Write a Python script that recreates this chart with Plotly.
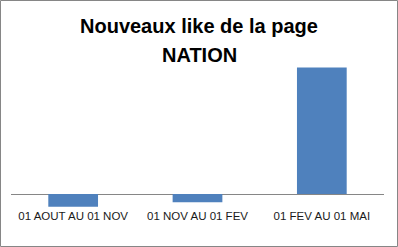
import plotly.graph_objects as go

categories = ["01 AOUT AU 01 NOV", "01 NOV AU 01 FEV", "01 FEV AU 01 MAI"]
values = [-25, -16, 250]
title_lines = ["Nouveaux like de la page", "NATION"]

W, H = 398, 247
L, R, T, B = 11, 14, 60, 40
pw, ph = W - L - R, H - T - B


def py(y_px):
    return (H - B - y_px) / ph


fig = go.Figure(go.Bar(x=categories, y=values, marker=dict(color="#4F81BD", line=dict(width=0))))

annotations = []
for txt, ypx in zip(title_lines, [26, 55]):
    annotations.append(dict(text="<b>" + txt + "</b>", xref="paper", yref="paper",
                            x=0.5 + (L - R) / 2 / pw * -1 * 0 + ((W / 2 - L) / pw - 0.5), y=py(ypx),
                            xanchor="center", yanchor="middle", showarrow=False,
                            font=dict(family="Liberation Sans", size=20, color="black")))

fig.update_layout(
    width=W, height=H,
    margin=dict(l=L, r=R, t=T, b=B),
    paper_bgcolor="white", plot_bgcolor="white",
    bargap=0.6,
    showlegend=False,
    annotations=annotations,
    xaxis=dict(showline=False, showgrid=False, ticks="", zeroline=False,
               tickfont=dict(family="Liberation Sans", size=11.5, color="#1a1a1a")),
    yaxis=dict(range=[-25.5, 265], showticklabels=False, showgrid=False, showline=False,
               zeroline=True, zerolinecolor="#868686", zerolinewidth=1),
    shapes=[dict(type="rect", xref="paper", yref="paper",
                 x0=(-L + 0.5) / pw, x1=(pw + R - 0.5) / pw,
                 y0=(-B + 0.5) / ph, y1=(ph + T - 0.5) / ph,
                 line=dict(color="#868686", width=1), layer="below")],
)

fig.write_html("out.html")
